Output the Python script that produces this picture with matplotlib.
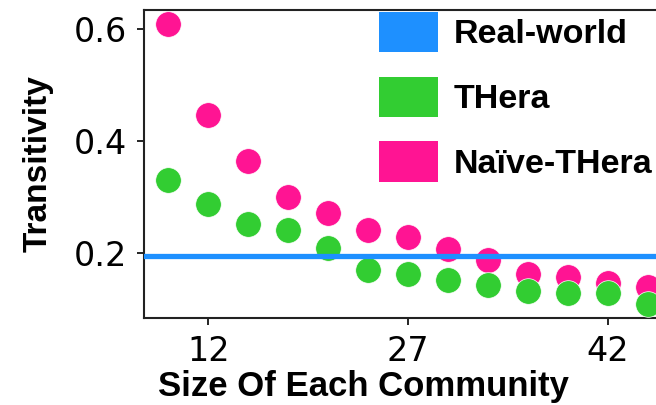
import matplotlib
matplotlib.use("Agg")
import matplotlib.pyplot as plt
from matplotlib.patches import Patch

sizes = [9, 12, 15, 18, 21, 24, 27, 30, 33, 36, 39, 42, 45]
naive_thera = [0.608, 0.446, 0.364, 0.301, 0.271, 0.241, 0.230, 0.207, 0.189, 0.163, 0.158, 0.148, 0.141]
thera = [0.330, 0.287, 0.252, 0.241, 0.209, 0.170, 0.163, 0.153, 0.143, 0.133, 0.129, 0.129, 0.110]
real_world = 0.195
xticks = [12, 27, 42]
yticks = [0.2, 0.4, 0.6]
labels = ["Real-world", "THera", "Naïve-THera"]
colors = ["#1E90FF", "#32CD32", "#FF1493"]

fig = plt.figure(figsize=(6.56, 4.05), dpi=100)
ax = fig.add_axes([144/656, 1-318/405, (669-144)/656, (318-10)/405])

ax.scatter(sizes, naive_thera, s=340, color=colors[2], edgecolors='white', linewidths=0.5, zorder=2)
ax.scatter(sizes, thera, s=340, color=colors[1], edgecolors='white', linewidths=0.5, zorder=3)
ax.axhline(real_world, color=colors[0], linewidth=3.8, zorder=4)

ax.set_xlim(7.17, 46.6)
ax.set_ylim(0.085, 0.633)
ax.set_xticks(xticks)
ax.set_xticklabels([str(t) for t in xticks])
ax.set_yticks(yticks)
ax.set_yticklabels([f"{t:.1f}" for t in yticks])
ax.tick_params(axis='both', labelsize=24, length=5, width=1.2, pad=7, colors='black')
for sp in ax.spines.values():
    sp.set_linewidth(1.5)
    sp.set_color('#222222')

ax.set_xlabel("Size Of Each Community", fontsize=25, fontweight='bold',
              family=['Liberation Sans', 'DejaVu Sans'])
ax.xaxis.set_label_coords((364-144)/525, -(398-318)/308, transform=None) if False else None
ax.xaxis.set_label_coords((364-144)/525, -(403-318)/308)
ax.xaxis.label.set_verticalalignment('bottom')
ax.set_ylabel("Transitivity", fontsize=24, fontweight='bold',
              family=['Liberation Sans', 'DejaVu Sans'], labelpad=15)

handles = [Patch(facecolor=c, edgecolor='none') for c in colors]
fig.legend(handles, labels, loc='upper left', bbox_to_anchor=(379/656, 1-12/405),
           frameon=False, borderpad=0, borderaxespad=0, handlelength=1.74, handleheight=1.44,
           handletextpad=0.45, labelspacing=0.72,
           prop={'family': ['Liberation Sans', 'DejaVu Sans'], 'weight': 'bold', 'size': 24.5})

fig.savefig("out.png", dpi=100)
